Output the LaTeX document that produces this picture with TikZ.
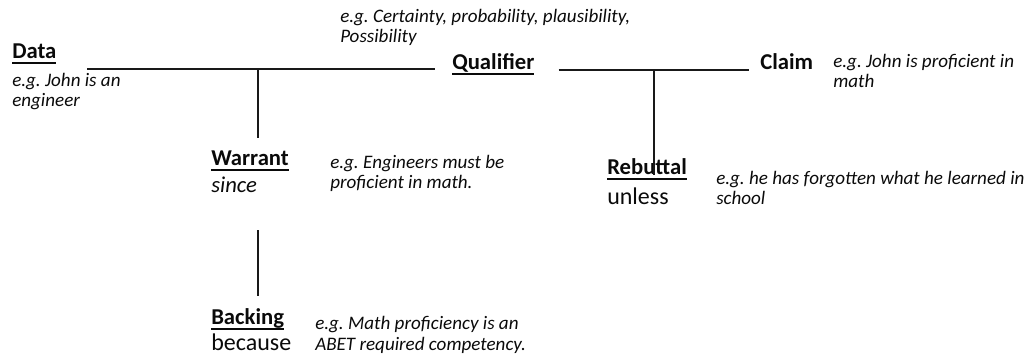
\documentclass[tikz,border=0pt]{standalone}
\usepackage{fontspec}
\setmainfont{Carlito}
\usepackage{xcolor}
\usepackage{tikz}
\definecolor{figline}{RGB}{25,25,25}
\definecolor{figtext}{RGB}{10,10,10}
\newcommand\ulword[1]{\setbox0\hbox{#1}\rlap{\rule[-3.4pt]{\wd0}{1.1pt}}\box0}
\tikzset{
  bar/.style  ={draw=figline, line width=1.5pt},
  head/.style ={font=\bfseries\fontsize{17}{20}\selectfont, text=figtext, anchor=base west, inner sep=0pt},
  conj/.style ={font=\fontsize{18}{21}\selectfont, text=figtext, anchor=base west, inner sep=0pt},
  eg/.style   ={font=\itshape\fontsize{14.3}{15}\selectfont, text=figtext, anchor=base west, align=left, inner sep=0pt},
}

\begin{document}
\begin{tikzpicture}[x=0.75pt,y=0.75pt]
  \useasboundingbox (0,0) rectangle (1030,360);
  % labels (eg blocks are placed by their last line)
  \node[head] (data) at (12,301) {\ulword{Data}};
  \node[eg] (dataeg) at (12,253) {e.g.\ John is an\\engineer};
  \node[eg] (qualeg) at (340,317) {e.g.\ Certainty, probability, plausibility,\\Possibility};
  \node[head] (qualifier) at (452,290) {\ulword{Qualifier}};
  \node[head] (claim) at (760,290) {Claim};
  \node[eg] (claimeg) at (833,272) {e.g.\ John is proficient in\\math};
  \node[head] (warrant) at (211,194) {\ulword{Warrant}};
  \node[conj,font=\itshape\fontsize{17}{20}\selectfont] (since) at (211,167) {since};
  \node[eg] (warranteg) at (330,171) {e.g.\ Engineers must be\\proficient in math.};
  \node[head] (backing) at (211,35) {\ulword{Backing}};
  \node[conj] (because) at (211,10) {because};
  \node[eg] (backingeg) at (315,10) {e.g.\ Math proficiency is an\\ABET required competency.};
  \node[head] (rebuttal) at (607,185) {\ulword{Rebuttal}};
  \node[conj] (unless) at (607,155) {unless};
  \node[eg] (rebuttaleg) at (716,155) {e.g.\ he has forgotten what he learned in\\school};
  % lines
  \coordinate (start) at (87,291);
  \coordinate (j1) at (258,291);
  \coordinate (j2) at (654,290);
  \draw[bar,shorten >=12.75pt] (start) -- (qualifier.base west |- start);
  \draw[bar,shorten <=18pt,shorten >=8.25pt] (qualifier.base east) -- (claim.base west);
  \draw[bar,shorten >=10pt] (j1) -- (j1 |- warrant.north);
  \draw[bar,shorten <=27.75pt,shorten >=9.75pt] (j1 |- since.south) -- (j1 |- backing.north);
  \draw[bar] (j2) -- (j2 |- rebuttal.base);
\end{tikzpicture}
\end{document}
